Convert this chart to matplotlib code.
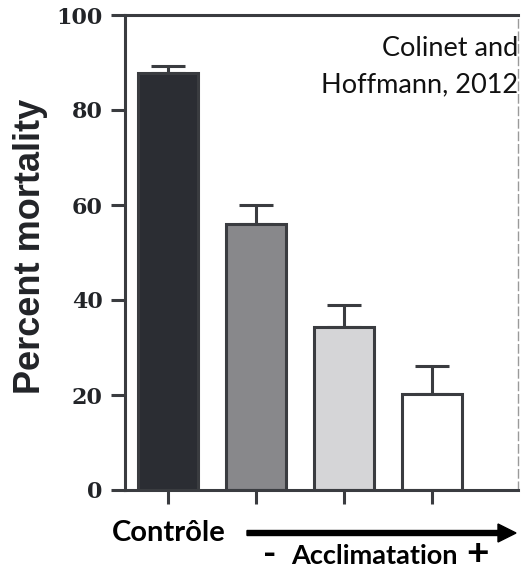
import matplotlib
matplotlib.use("Agg")
import matplotlib.pyplot as plt
from matplotlib.patches import FancyArrow

# Mortality by treatment (control, then increasing acclimation)
groups = ["Contrôle", "Accl. 1", "Accl. 2", "Accl. 3"]
mortality = [87.8, 56.0, 34.4, 20.3]
sem = [1.5, 3.9, 4.6, 5.8]
bar_colors = ["#2b2d33", "#88888b", "#d5d5d7", "#ffffff"]
y_ticks = [0, 20, 40, 60, 80, 100]

W, H = 524, 572
fig = plt.figure(figsize=(W / 100, H / 100), dpi=100)
ax = fig.add_axes([125 / W, (H - 490) / H, (518 - 125) / W, (490 - 15) / H])

edge = "#3a3c40"
x = list(range(len(groups)))
ax.bar(x, mortality, width=0.68, color=bar_colors, edgecolor=edge,
       linewidth=2.2, zorder=2)
ax.errorbar(x, mortality, yerr=[[0] * len(sem), sem], fmt="none",
            ecolor=edge, elinewidth=2.2, capsize=12, capthick=2.2, zorder=1)

ax.set_ylim(0, 100)
ax.set_xlim(-0.49, 3.98)
ax.set_yticks(y_ticks)
ax.set_xticks(x)
ax.set_xticklabels([])
ax.set_yticklabels([str(v) for v in y_ticks], fontfamily="DejaVu Serif",
                   fontweight="bold", fontsize=16, color="#222428")
ax.tick_params(axis="y", length=10, width=2.2, color=edge, pad=6)
ax.tick_params(axis="x", length=10, width=2.2, color=edge)

for side in ["left", "bottom", "top"]:
    ax.spines[side].set_color(edge)
    ax.spines[side].set_linewidth(2.2)
ax.spines["right"].set_color("#9a9a9a")
ax.spines["right"].set_linewidth(1.0)
ax.spines["right"].set_linestyle((0, (6, 3)))

fig.text(31 / W, 1 - 246 / H, "Percent mortality", rotation=90,
         ha="center", va="center", fontfamily="Liberation Sans",
         fontweight="bold", fontsize=26, color="#222428")

fig.text(518 / W, 1 - 48 / H, "Colinet and", ha="right", va="center",
         fontfamily="Lato", fontsize=19.5, color="#111111")
fig.text(518 / W, 1 - 85 / H, "Hoffmann, 2012", ha="right", va="center",
         fontfamily="Lato", fontsize=19.5, color="#111111")

fig.text(112 / W, 1 - 533 / H, "Contrôle", ha="left", va="center",
         fontfamily="Lato", fontweight="bold", fontsize=21, color="black")
fig.text(374 / W, 1 - 556 / H, "Acclimatation", ha="center", va="center",
         fontfamily="Lato", fontweight="bold", fontsize=19.5, color="black")
fig.text(270 / W, 1 - 554 / H, "-", ha="center", va="center",
         fontfamily="Lato", fontweight="bold", fontsize=26, color="black")
fig.text(477 / W, 1 - 553 / H, "+", ha="center", va="center",
         fontfamily="Lato", fontweight="bold", fontsize=28, color="black")

fig.patches.append(FancyArrow(
    247 / W, 1 - 533 / H, (498 - 247) / W, 0, width=5 / H,
    head_width=18 / H, head_length=18 / W, length_includes_head=False,
    color="black", transform=fig.transFigure, figure=fig))

fig.savefig("out.png", dpi=100)
